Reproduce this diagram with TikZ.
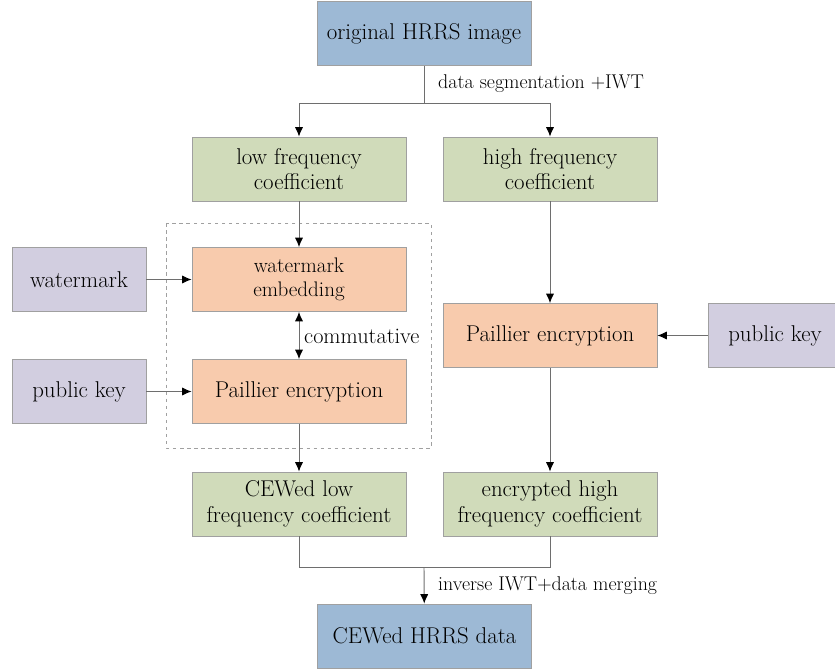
\documentclass[tikz,border=0pt]{standalone}
\usepackage{tikz}
\usetikzlibrary{arrows.meta}

\definecolor{boxblue}{HTML}{9DB9D5}
\definecolor{boxgreen}{HTML}{D0DBBA}
\definecolor{boxorange}{HTML}{F8CBAD}
\definecolor{boxpurple}{HTML}{D2CEE0}
\definecolor{edgegray}{HTML}{A0A0A0}
\definecolor{linegray}{HTML}{6E6E6E}

\begin{document}
\begin{tikzpicture}[x=0.03cm, y=-0.03cm,
    block/.style ={rectangle, draw=edgegray, thick, minimum width=6.42cm,
                   minimum height=1.92cm, align=center, font=\fontsize{19.5}{22}\selectfont},
    side/.style ={block, fill=boxpurple, minimum width=4.02cm},
    flow/.style ={draw=linegray, thick, -{Latex[length=8pt,width=7pt,color=black]}},
    plain/.style ={draw=linegray, thick},
    note/.style ={anchor=west, inner sep=0pt, font=\fontsize{17}{20}\selectfont}]
   \useasboundingbox (0,0) rectangle (835,669);

   \node[block,fill=boxblue] (image)  at (424,33.5)  {original HRRS image};
   \node[block,fill=boxgreen] (low)  at (299,169)  {low frequency\\coefficient};
   \node[block,fill=boxgreen] (high)  at (550,169)  {high frequency\\coefficient};
   \node[block,fill=boxorange,font=\fontsize{18}{21}\selectfont] (embed)  at (299,279.5)  {watermark\\embedding};
   \node[block,fill=boxorange] (encL)  at (299,391.5)  {Paillier encryption};
   \node[side] (mark)  at (79,279.5)  {watermark};
   \node[side] (keyL)  at (79,391.5)  {public key};
   \node[block,fill=boxorange] (encH)  at (550,335.5)  {Paillier encryption};
   \node[side] (keyH)  at (775,335.5)  {public key};
   \node[block,fill=boxgreen] (cewLow)  at (299,504)  {CEWed low\\frequency coefficient};
   \node[block,fill=boxgreen] (encHigh)  at (550,504)  {encrypted high\\frequency coefficient};
   \node[block,fill=boxblue] (result)  at (424.5,636)  {CEWed HRRS data};

   \coordinate (split) at (424,103);
   \coordinate (merge) at (424,567);

   \draw[dashed,draw=edgegray,thick] (166,223) rectangle (431,448);

   \draw[plain] (image) to (split);
   \draw[flow] (split) -| (low);
   \draw[flow] (split) -| (high);
   \draw[flow] (low) to (embed);
   \draw[flow,{Latex[length=8pt,width=7pt,color=black]}-{Latex[length=8pt,width=7pt,color=black]}] (embed) to (encL);
   \draw[flow] (mark) to (embed);
   \draw[flow] (keyL) to (encL);
   \draw[flow] (encL) to (cewLow);
   \draw[flow] (high) to (encH);
   \draw[flow] (keyH) to (encH);
   \draw[flow] (encH) to (encHigh);
   \draw[plain] (cewLow) |- (merge);
   \draw[plain] (encHigh) |- (merge);
   \draw[flow] (merge) to (result);

   \node[note] (segLabel) at (438,84) {data segmentation +IWT};
   \node[note,font=\fontsize{19}{22}\selectfont] (comLabel) at (304,336) {commutative};
   \node[note] (mergeLabel) at (438,586) {inverse IWT+data merging};
 \end{tikzpicture}
\end{document}
